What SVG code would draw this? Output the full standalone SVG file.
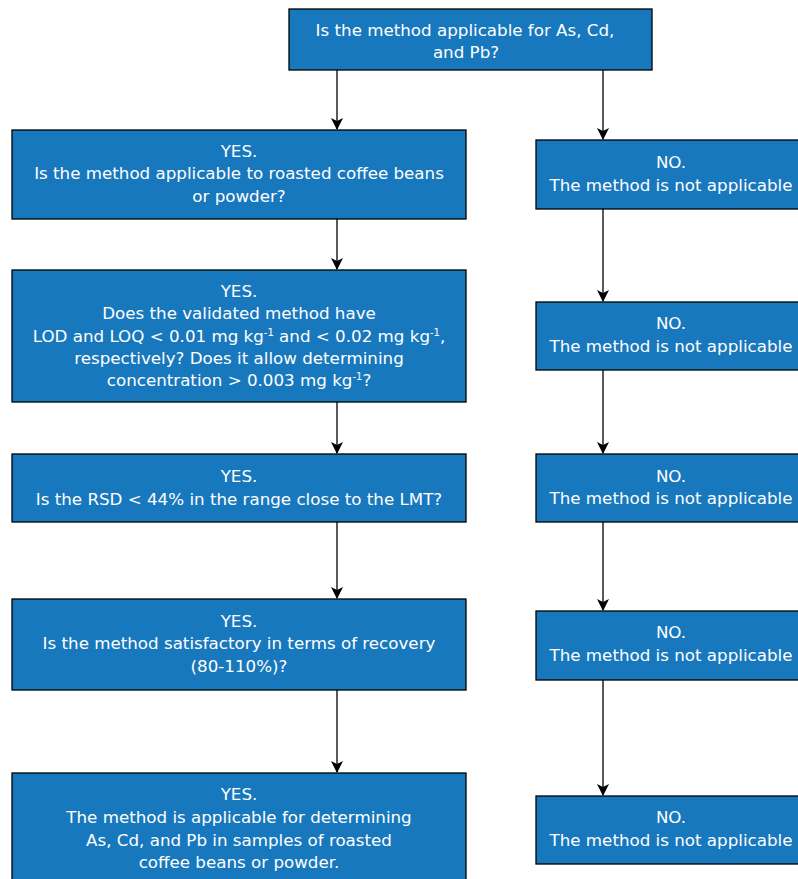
<svg xmlns="http://www.w3.org/2000/svg" width="798" height="879" viewBox="0 0 798 879">
<defs>
<marker id="ah" markerWidth="12" markerHeight="12" refX="11" refY="6" orient="auto" markerUnits="userSpaceOnUse">
<path d="M0,0 L12,6 L0,12 L3,6 Z" fill="#000"/>
</marker>
</defs>
<style>
.box{fill:#1878be;stroke:#000;stroke-width:1.3}
.t{font-family:"DejaVu Sans",sans-serif;font-size:16.7px;fill:#fff;text-anchor:middle}
.c{stroke:#000;stroke-width:1.3;fill:none;marker-end:url(#ah)}
</style>
<rect width="798" height="879" fill="#fff"/>
<g id="connectors">
<line class="c" x1="337" y1="70" x2="337" y2="129"/>
<line class="c" x1="603" y1="70" x2="603" y2="139"/>
<line class="c" x1="337" y1="219" x2="337" y2="269"/>
<line class="c" x1="603" y1="209" x2="603" y2="301"/>
<line class="c" x1="337" y1="402" x2="337" y2="453"/>
<line class="c" x1="603" y1="370" x2="603" y2="453"/>
<line class="c" x1="337" y1="522" x2="337" y2="598"/>
<line class="c" x1="603" y1="522" x2="603" y2="610"/>
<line class="c" x1="337" y1="690" x2="337" y2="772"/>
<line class="c" x1="603" y1="680" x2="603" y2="795"/>
</g>
<g id="q0">
<rect class="box" x="289" y="9" width="363" height="61"/>
<text class="t" x="465" y="36">Is the method applicable for As, Cd,</text>
<text class="t" x="466" y="58">and Pb?</text>
</g>
<g id="y1">
<rect class="box" x="12" y="130" width="454" height="89"/>
<text class="t" x="239" y="157">YES.</text>
<text class="t" x="239" y="179">Is the method applicable to roasted coffee beans</text>
<text class="t" x="239" y="202">or powder?</text>
</g>
<g id="y2">
<rect class="box" x="12" y="270" width="454" height="132"/>
<text class="t" x="239" y="297">YES.</text>
<text class="t" x="239" y="319">Does the validated method have</text>
<text class="t" x="239" y="342">LOD and LOQ &lt; 0.01 mg kg<tspan font-size="10" dy="-6">-1</tspan><tspan dy="6"> and &lt; 0.02 mg kg</tspan><tspan font-size="10" dy="-6">-1</tspan><tspan dy="6">,</tspan></text>
<text class="t" x="239" y="364">respectively? Does it allow determining</text>
<text class="t" x="239" y="386">concentration &gt; 0.003 mg kg<tspan font-size="10" dy="-6">-1</tspan><tspan dy="6">?</tspan></text>
</g>
<g id="y3">
<rect class="box" x="12" y="454" width="454" height="68"/>
<text class="t" x="239" y="482">YES.</text>
<text class="t" x="239" y="505">Is the RSD &lt; 44% in the range close to the LMT?</text>
</g>
<g id="y4">
<rect class="box" x="12" y="599" width="454" height="91"/>
<text class="t" x="239" y="627">YES.</text>
<text class="t" x="239" y="649">Is the method satisfactory in terms of recovery</text>
<text class="t" x="239" y="672">(80-110%)?</text>
</g>
<g id="y5">
<rect class="box" x="12" y="773" width="454" height="110"/>
<text class="t" x="239" y="800">YES.</text>
<text class="t" x="239" y="823">The method is applicable for determining</text>
<text class="t" x="239" y="846">As, Cd, and Pb in samples of roasted</text>
<text class="t" x="239" y="868">coffee beans or powder.</text>
</g>
<g id="n1">
<rect class="box" x="536" y="140" width="270" height="69"/>
<text class="t" x="671" y="168">NO.</text>
<text class="t" x="671" y="191">The method is not applicable</text>
</g>
<g id="n2">
<rect class="box" x="536" y="302" width="270" height="68"/>
<text class="t" x="671" y="329">NO.</text>
<text class="t" x="671" y="352">The method is not applicable</text>
</g>
<g id="n3">
<rect class="box" x="536" y="454" width="270" height="68"/>
<text class="t" x="671" y="482">NO.</text>
<text class="t" x="671" y="504">The method is not applicable</text>
</g>
<g id="n4">
<rect class="box" x="536" y="611" width="270" height="69"/>
<text class="t" x="671" y="638">NO.</text>
<text class="t" x="671" y="661">The method is not applicable</text>
</g>
<g id="n5">
<rect class="box" x="536" y="796" width="270" height="68"/>
<text class="t" x="671" y="823">NO.</text>
<text class="t" x="671" y="846">The method is not applicable</text>
</g>
</svg>
